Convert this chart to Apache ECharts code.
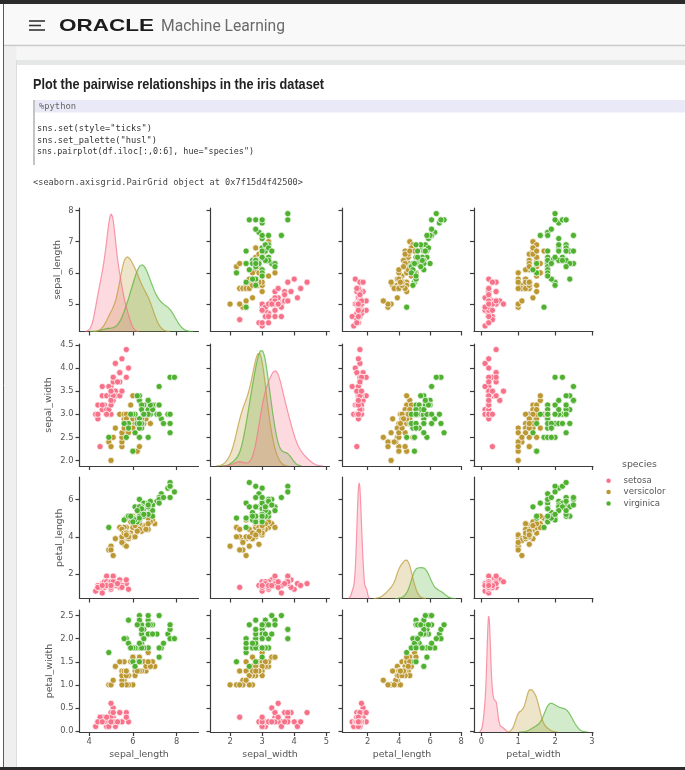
<!DOCTYPE html>
<html>
<head>
<meta charset="utf-8">
<script src="https://cdn.jsdelivr.net/npm/echarts@6/dist/echarts.min.js"></script>
<style>
html,body{margin:0;padding:0;background:#fff;}
#chart{width:685px;height:770px;}
</style>
</head>
<body>
<div id="chart"></div>
<script>
// ---------------- DATA ----------------
const variables = ['sepal_length', 'sepal_width', 'petal_length', 'petal_width'];
const species = ['setosa', 'versicolor', 'virginica'];

const setosa_sepal_length = [5.1,4.9,4.7,4.6,5.0,5.4,4.6,5.0,4.4,4.9,5.4,4.8,4.8,4.3,5.8,5.7,5.4,5.1,5.7,5.1,5.4,5.1,4.6,5.1,4.8,5.0,5.0,5.2,5.2,4.7,4.8,5.4,5.2,5.5,4.9,5.0,5.5,4.9,4.4,5.1,5.0,4.5,4.4,5.0,5.1,4.8,5.1,4.6,5.3,5.0];
const setosa_sepal_width = [3.5,3.0,3.2,3.1,3.6,3.9,3.4,3.4,2.9,3.1,3.7,3.4,3.0,3.0,4.0,4.4,3.9,3.5,3.8,3.8,3.4,3.7,3.6,3.3,3.4,3.0,3.4,3.5,3.4,3.2,3.1,3.4,4.1,4.2,3.1,3.2,3.5,3.6,3.0,3.4,3.5,2.3,3.2,3.5,3.8,3.0,3.8,3.2,3.7,3.3];
const setosa_petal_length = [1.4,1.4,1.3,1.5,1.4,1.7,1.4,1.5,1.4,1.5,1.5,1.6,1.4,1.1,1.2,1.5,1.3,1.4,1.7,1.5,1.7,1.5,1.0,1.7,1.9,1.6,1.6,1.5,1.4,1.6,1.6,1.5,1.5,1.4,1.5,1.2,1.3,1.4,1.3,1.5,1.3,1.3,1.3,1.6,1.9,1.4,1.6,1.4,1.5,1.4];
const setosa_petal_width = [0.2,0.2,0.2,0.2,0.2,0.4,0.3,0.2,0.2,0.1,0.2,0.2,0.1,0.1,0.2,0.4,0.4,0.3,0.3,0.3,0.2,0.4,0.2,0.5,0.2,0.2,0.4,0.2,0.2,0.2,0.2,0.4,0.1,0.2,0.2,0.2,0.2,0.1,0.2,0.2,0.3,0.3,0.2,0.6,0.4,0.3,0.2,0.2,0.2,0.2];

const versicolor_sepal_length = [7.0,6.4,6.9,5.5,6.5,5.7,6.3,4.9,6.6,5.2,5.0,5.9,6.0,6.1,5.6,6.7,5.6,5.8,6.2,5.6,5.9,6.1,6.3,6.1,6.4,6.6,6.8,6.7,6.0,5.7,5.5,5.5,5.8,6.0,5.4,6.0,6.7,6.3,5.6,5.5,5.5,6.1,5.8,5.0,5.6,5.7,5.7,6.2,5.1,5.7];
const versicolor_sepal_width = [3.2,3.2,3.1,2.3,2.8,2.8,3.3,2.4,2.9,2.7,2.0,3.0,2.2,2.9,2.9,3.1,3.0,2.7,2.2,2.5,3.2,2.8,2.5,2.8,2.9,3.0,2.8,3.0,2.9,2.6,2.4,2.4,2.7,2.7,3.0,3.4,3.1,2.3,3.0,2.5,2.6,3.0,2.6,2.3,2.7,3.0,2.9,2.9,2.5,2.8];
const versicolor_petal_length = [4.7,4.5,4.9,4.0,4.6,4.5,4.7,3.3,4.6,3.9,3.5,4.2,4.0,4.7,3.6,4.4,4.5,4.1,4.5,3.9,4.8,4.0,4.9,4.7,4.3,4.4,4.8,5.0,4.5,3.5,3.8,3.7,3.9,5.1,4.5,4.5,4.7,4.4,4.1,4.0,4.4,4.6,4.0,3.3,4.2,4.2,4.2,4.3,3.0,4.1];
const versicolor_petal_width = [1.4,1.5,1.5,1.3,1.5,1.3,1.6,1.0,1.3,1.4,1.0,1.5,1.0,1.4,1.3,1.4,1.5,1.0,1.5,1.1,1.8,1.3,1.5,1.2,1.3,1.4,1.4,1.7,1.5,1.0,1.1,1.0,1.2,1.6,1.5,1.6,1.5,1.3,1.3,1.3,1.2,1.4,1.2,1.0,1.3,1.2,1.3,1.3,1.1,1.3];

const virginica_sepal_length = [6.3,5.8,7.1,6.3,6.5,7.6,4.9,7.3,6.7,7.2,6.5,6.4,6.8,5.7,5.8,6.4,6.5,7.7,7.7,6.0,6.9,5.6,7.7,6.3,6.7,7.2,6.2,6.1,6.4,7.2,7.4,7.9,6.4,6.3,6.1,7.7,6.3,6.4,6.0,6.9,6.7,6.9,5.8,6.8,6.7,6.7,6.3,6.5,6.2,5.9];
const virginica_sepal_width = [3.3,2.7,3.0,2.9,3.0,3.0,2.5,2.9,2.5,3.6,3.2,2.7,3.0,2.5,2.8,3.2,3.0,3.8,2.6,2.2,3.2,2.8,2.8,2.7,3.3,3.2,2.8,3.0,2.8,3.0,2.8,3.8,2.8,2.8,2.6,3.0,3.4,3.1,3.0,3.1,3.1,3.1,2.7,3.2,3.3,3.0,2.5,3.0,3.4,3.0];
const virginica_petal_length = [6.0,5.1,5.9,5.6,5.8,6.6,4.5,6.3,5.8,6.1,5.1,5.3,5.5,5.0,5.1,5.3,5.5,6.7,6.9,5.0,5.7,4.9,6.7,4.9,5.7,6.0,4.8,4.9,5.6,5.8,6.1,6.4,5.6,5.1,5.6,6.1,5.6,5.5,4.8,5.4,5.6,5.1,5.1,5.9,5.7,5.2,5.0,5.2,5.4,5.1];
const virginica_petal_width = [2.5,1.9,2.1,1.8,2.2,2.1,1.7,1.8,1.8,2.5,2.0,1.9,2.1,2.0,2.4,2.3,1.8,2.2,2.3,1.5,2.3,2.0,2.0,1.8,2.1,1.8,1.8,1.8,2.1,1.6,1.9,2.0,2.2,1.5,1.4,2.3,2.4,1.8,1.8,2.1,2.4,2.3,1.9,2.3,2.5,2.3,1.9,2.0,2.3,1.8];

// tick labels per variable (x ticks in bottom row, y ticks in left column)
const xTickValues = [[4, 6, 8], [2, 3, 4, 5], [2, 4, 6, 8], [0, 1, 2, 3]];
const xTickDecimals = [0, 0, 0, 0];
const yTickValues = [[5, 6, 7, 8], [2.0, 2.5, 3.0, 3.5, 4.0, 4.5], [2, 4, 6], [0.0, 0.5, 1.0, 1.5, 2.0, 2.5]];
const yTickDecimals = [0, 1, 0, 1];
// axis ranges
const columnLimits = [[3.56, 9.0], [1.39, 5.1], [0.38, 8.02], [-0.2, 3.03]];
const rowLimits = [[4.12, 8.08], [1.88, 4.52], [0.705, 7.195], [-0.02, 2.62]];

// page texts
const headerBrand = 'ORACLE';
const headerProduct = 'Machine Learning';
const cellTitle = 'Plot the pairwise relationships in the iris dataset';
const codeInterpreter = '%python';
const codeLines = ['sns.set(style="ticks")', 'sns.set_palette("husl")', 'sns.pairplot(df.iloc[:,0:6], hue="species")'];
const outputLine = '<seaborn.axisgrid.PairGrid object at 0x7f15d4f42500>';
const legendTitle = 'species';

// ---------------- STYLE / LAYOUT ----------------
const speciesColors = ['#f77189', '#bb9832', '#50b131'];
const colLeft = [79.5, 210.5, 342.5, 474];
const colWidth = 119;
const rowTop = [208, 344, 477, 610];
const rowHeight = [123.5, 122, 121.5, 122];
const yNameGap = [17, 26, 15, 25];
const spineColor = '#3c3c3c';
const textColor = '#555';
const tickFont = 'DejaVu Sans';

const irisBySpecies = {
  setosa: [setosa_sepal_length, setosa_sepal_width, setosa_petal_length, setosa_petal_width],
  versicolor: [versicolor_sepal_length, versicolor_sepal_width, versicolor_petal_length, versicolor_petal_width],
  virginica: [virginica_sepal_length, virginica_sepal_width, virginica_petal_length, virginica_petal_width]
};
const totalCount = species.reduce((a, s) => a + irisBySpecies[s][0].length, 0);

// Gaussian KDE (Scott bandwidth, cut = 3, 200 grid points), normalised over all species like seaborn's common_norm
function kdeCurve(values) {
  const n = values.length;
  const mean = values.reduce((a, b) => a + b, 0) / n;
  const sd = Math.sqrt(values.reduce((a, b) => a + (b - mean) * (b - mean), 0) / (n - 1));
  const bw = sd * Math.pow(n, -0.2);
  const lo = Math.min(...values) - 3 * bw, hi = Math.max(...values) + 3 * bw;
  const pts = [];
  for (let i = 0; i < 200; i++) {
    const x = lo + (hi - lo) * i / 199;
    let s = 0;
    for (const v of values) { const z = (x - v) / bw; s += Math.exp(-0.5 * z * z); }
    pts.push([x, s / (n * bw * Math.sqrt(2 * Math.PI)) * n / totalCount]);
  }
  return pts;
}

const measureCtx = document.createElement('canvas').getContext('2d');
function fitScale(text, font, target) {
  measureCtx.font = font;
  const w = measureCtx.measureText(text).width;
  return w > 0 ? target / w : 1;
}
function textEl(text, x, y, size, family, weight, color, targetWidth) {
  const font = weight + ' ' + size + 'px ' + family;
  const s = targetWidth ? fitScale(text, font, targetWidth) : 1;
  return {
    type: 'text', x: x, y: y, scaleX: s, silent: true, z: 5,
    style: { text: text, x: 0, y: 0, font: font, fill: color, align: 'left', verticalAlign: 'middle' }
  };
}
function rectEl(x, y, w, h, fill) {
  return { type: 'rect', silent: true, z: 0, shape: { x: x, y: y, width: w, height: h }, style: { fill: fill } };
}
function lineEl(x1, y1, x2, y2, stroke, width) {
  return { type: 'line', silent: true, z: 1, shape: { x1: x1, y1: y1, x2: x2, y2: y2 }, style: { stroke: stroke, lineWidth: width } };
}

// ---------------- BUILD ----------------
const grids = [], xAxes = [], yAxes = [], scatterSeries = [], diagSeries = [];
const axisLineStyle = { color: spineColor, width: 1.2 };

for (let r = 0; r < 4; r++) {
  for (let c = 0; c < 4; c++) {
    const gi = grids.length;
    grids.push({ left: colLeft[c], top: rowTop[r], width: colWidth, height: rowHeight[r], containLabel: false });
    xAxes.push({
      gridIndex: gi, type: 'value', min: columnLimits[c][0], max: columnLimits[c][1],
      axisLine: { show: true, onZero: false, lineStyle: axisLineStyle },
      axisTick: { show: true, length: 4, inside: false, customValues: xTickValues[c], lineStyle: axisLineStyle },
      axisLabel: {
        show: r === 3, customValues: xTickValues[c], margin: 6, fontSize: 8.3, fontFamily: tickFont, color: textColor,
        formatter: (v) => Number(v).toFixed(xTickDecimals[c])
      },
      splitLine: { show: false },
      name: r === 3 ? variables[c] : '', nameLocation: 'middle', nameGap: 18,
      nameTextStyle: { fontSize: 9.4, fontFamily: tickFont, color: textColor }
    });
    const rowAxisIndex = yAxes.length;
    yAxes.push({
      gridIndex: gi, type: 'value', min: rowLimits[r][0], max: rowLimits[r][1], position: 'left',
      axisLine: { show: true, onZero: false, lineStyle: axisLineStyle },
      axisTick: { show: true, length: 4, inside: false, customValues: yTickValues[r], lineStyle: axisLineStyle },
      axisLabel: {
        show: c === 0, customValues: yTickValues[r], margin: 6, fontSize: 8.3, fontFamily: tickFont, color: textColor,
        formatter: (v) => Number(v).toFixed(yTickDecimals[r])
      },
      splitLine: { show: false },
      name: c === 0 ? variables[r] : '', nameLocation: 'middle', nameGap: yNameGap[r],
      nameTextStyle: { fontSize: 9.4, fontFamily: tickFont, color: textColor }
    });
    if (r === c) {
      const curves = species.map(s => kdeCurve(irisBySpecies[s][c]));
      let peak = 0;
      curves.forEach(cv => cv.forEach(p => { if (p[1] > peak) peak = p[1]; }));
      const densityAxisIndex = yAxes.length;
      yAxes.push({ gridIndex: gi, type: 'value', min: 0, max: peak * 1.05, position: 'right', show: false, splitLine: { show: false } });
      for (let k = species.length - 1; k >= 0; k--) {
        diagSeries.push({
          type: 'line', name: species[k], xAxisIndex: gi, yAxisIndex: densityAxisIndex,
          data: curves[k], showSymbol: false, symbol: 'none', smooth: false, silent: true,
          lineStyle: { color: speciesColors[k], width: 1.2, opacity: 0.7 },
          areaStyle: { color: speciesColors[k], opacity: 0.26 },
          itemStyle: { color: speciesColors[k] },
          emphasis: { disabled: true }
        });
      }
    } else {
      species.forEach((s, k) => {
        const cols = irisBySpecies[s];
        scatterSeries.push({
          type: 'scatter', name: s, xAxisIndex: gi, yAxisIndex: rowAxisIndex,
          data: cols[c].map((v, i) => [v, cols[r][i]]),
          symbol: 'circle', symbolSize: 6.2, silent: true,
          itemStyle: { color: speciesColors[k], borderColor: '#ffffff', borderWidth: 0.7, opacity: 1 },
          emphasis: { disabled: true }
        });
      });
    }
  }
}

const monoFamily = "'DejaVu Sans Mono', 'Liberation Mono', monospace";
const graphics = [
  rectEl(0, 0, 685, 4, '#2b2b2b'),
  rectEl(4, 4, 681, 41, '#f9f9f9'),
  lineEl(4, 45.5, 685, 45.5, '#c9c9c9', 1.6),
  rectEl(4, 46.5, 681, 14, '#f6f6f6'),
  rectEl(4, 46.5, 12.5, 721, '#efefef'),
  rectEl(17, 60, 668, 5, '#e6e8e8'),
  lineEl(16.5, 60, 16.5, 767, '#dcdcdc', 1),
  lineEl(3.5, 4, 3.5, 767, '#5a5a5a', 1),
  rectEl(0, 767, 685, 3, '#2b2b2b'),
  // hamburger
  lineEl(29, 21, 45, 21, '#333', 1.6),
  lineEl(29, 25.5, 41, 25.5, '#333', 1.6),
  lineEl(29, 30, 45, 30, '#333', 1.6),
  textEl(headerBrand, 59, 26.5, 17, "'Liberation Sans', Arial, sans-serif", 'bold', '#1c1c1c', 95),
  textEl(headerProduct, 161, 27, 16, "Roboto, 'Open Sans', sans-serif", 'normal', '#6a6a6a', 124),
  textEl(cellTitle, 33, 85, 14, "'Liberation Sans', Arial, sans-serif", 'bold', '#222', 291),
  // code block
  rectEl(34, 100, 651, 12.5, '#e9e9f7'),
  lineEl(34, 100, 34, 165, '#c4c4c4', 2),
  textEl(codeInterpreter, 39, 106.5, 9, monoFamily, 'normal', '#666', 37),
  textEl(codeLines[0], 37, 129, 9, monoFamily, 'normal', '#333', 115),
  textEl(codeLines[1], 37, 140.5, 9, monoFamily, 'normal', '#333', 120),
  textEl(codeLines[2], 37, 152, 9, monoFamily, 'normal', '#333', 217),
  textEl(outputLine, 33, 182.5, 9, monoFamily, 'normal', '#444', 270),
  // legend title
  {
    type: 'text', x: 639.5, y: 465, silent: true, z: 5,
    style: { text: legendTitle, x: 0, y: 0, font: 'normal 9.4px ' + tickFont, fill: textColor, align: 'center', verticalAlign: 'middle' }
  }
];

const option = {
  backgroundColor: '#ffffff',
  animation: false,
  tooltip: { show: false },
  graphic: { elements: graphics },
  legend: {
    orient: 'vertical', left: 604.3, top: 475.2, padding: 0,
    itemWidth: 20, itemHeight: 6.5, itemGap: 0.4, icon: 'circle', selectedMode: false,
    data: species,
    textStyle: { fontSize: 8.6, fontFamily: tickFont, color: textColor, lineHeight: 11 }
  },
  grid: grids,
  xAxis: xAxes,
  yAxis: yAxes,
  series: scatterSeries.concat(diagSeries)
};

const chart = echarts.init(document.getElementById('chart'), null, { renderer: 'canvas', width: 685, height: 770 });
chart.setOption(option);
</script>
</body>
</html>
